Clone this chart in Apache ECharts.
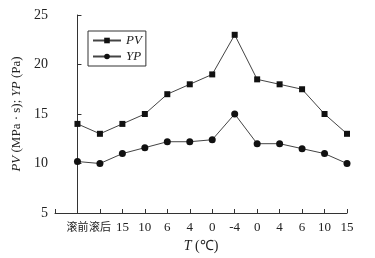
<!DOCTYPE html>
<html><head><meta charset="utf-8">
<script src="https://cdn.jsdelivr.net/npm/echarts@6/dist/echarts.min.js"></script>
<style>html,body{margin:0;padding:0;background:#fff}#c{width:375px;height:258px}</style>
</head><body><div id="c"></div>
<script>
const categories = ['滚前','滚后','15','10','6','4','0','-4','0','4','6','10','15'];
const pvValues = [14, 13, 14, 15, 17, 18, 19, 23, 18.5, 18, 17.5, 15, 13];
const ypValues = [10.2, 10, 11, 11.6, 12.2, 12.2, 12.4, 15, 12, 12, 11.5, 11, 10];
const yTicks = [5, 10, 15, 20, 25];

const serif = '"Liberation Serif", "Times New Roman", serif';
const chart = echarts.init(document.getElementById('c'), null, {renderer:'canvas'});
const toPairs = arr => arr.map((v,i)=>[i,v]);
chart.setOption({
  animation:false,
  backgroundColor:'#fff',
  grid:{left:55,right:28,top:15,bottom:45},
  legend:{
    left:88, top:31, orient:'vertical',
    itemWidth:28, itemHeight:7, itemGap:3,
    padding:[3,4,3,4],
    borderColor:'#333', borderWidth:1,
    textStyle:{fontFamily:serif, fontStyle:'italic', fontSize:13, color:'#222'},
    data:['PV','YP']
  },
  xAxis:{
    type:'value', min:-1, max:12, interval:1,
    name:'{i|T}{n| (℃)}', nameLocation:'middle', nameGap:25,
    nameTextStyle:{rich:{i:{fontFamily:serif,fontStyle:'italic',fontSize:14,color:'#222'},n:{fontFamily:serif,fontSize:14,color:'#222'}}},
    axisLine:{lineStyle:{color:'#333',width:1}},
    axisTick:{inside:true,length:4,lineStyle:{color:'#333'}},
    splitLine:{show:false},
    axisLabel:{
      margin:8,
      fontSize:13, color:'#222',
      fontFamily:serif,
      formatter: v => {
        if (v < 0 || v >= categories.length) return '';
        const s = categories[v];
        return /^[-0-9]+$/.test(s) ? s : '{c|' + s + '}';
      },
      rich:{c:{fontFamily:'"Noto Sans CJK SC"',fontSize:11,color:'#222'}}
    }
  },
  yAxis:{
    type:'value', min:yTicks[0], max:yTicks[yTicks.length-1], interval:5,
    name:'{i|PV}{n| (MPa · s); }{i|YP}{n| (Pa)}', nameLocation:'middle', nameGap:29,
    nameTextStyle:{rich:{i:{fontFamily:serif,fontStyle:'italic',fontSize:13,color:'#222'},n:{fontFamily:serif,fontSize:13,color:'#222'}}},
    axisLine:{show:true,lineStyle:{color:'#333',width:1}},
    axisTick:{show:true,inside:true,length:4,lineStyle:{color:'#333'}},
    splitLine:{show:false},
    axisLabel:{fontFamily:serif,fontSize:14,color:'#222',margin:7}
  },
  series:[
    {name:'PV',type:'line',data:toPairs(pvValues),symbol:'rect',symbolSize:6,
     lineStyle:{color:'#444',width:1},itemStyle:{color:'#111'}},
    {name:'YP',type:'line',data:toPairs(ypValues),symbol:'circle',symbolSize:7,
     lineStyle:{color:'#444',width:1},itemStyle:{color:'#111'}}
  ]
});
</script></body></html>
